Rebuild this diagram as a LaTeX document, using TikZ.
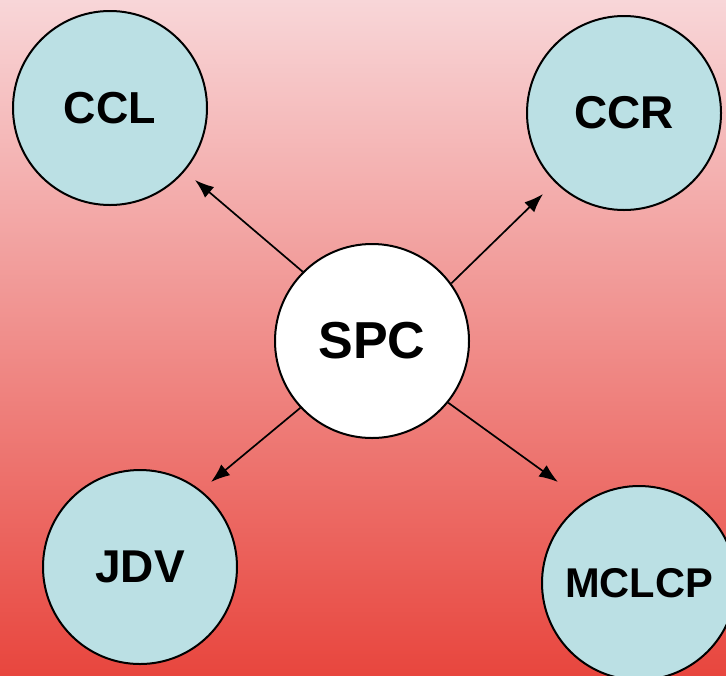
\documentclass[tikz,border=0pt]{standalone}
\usepackage{fontspec}
\setmainfont{Liberation Sans}
\usetikzlibrary{arrows.meta}
\definecolor{cielo}{RGB}{187,224,228}
\definecolor{rosa}{RGB}{248,214,216}
\definecolor{rosso}{RGB}{232,70,62}

\begin{document}
\begin{tikzpicture}[x=0.5pt,y=-0.5pt,font=\bfseries,
  bolla/.style={circle,draw,line width=1pt,fill=cielo,minimum size=97pt,inner sep=0pt},
  freccia/.style={-{Latex[length=9.5pt,width=7pt]},line width=0.85pt}]

\useasboundingbox (0,0) rectangle (726,675);
\shade[top color=rosa,bottom color=rosso] (0,0) rectangle (726,675);

\begin{scope}
\clip (0,0) rectangle (726,675);
\node[bolla,fill=white] (spc) at (372,341) {\fontsize{26}{30}\selectfont SPC};
\node[bolla] (ccl) at (110,108) {\fontsize{22.4}{26}\selectfont CCL};
\node[bolla] (ccr) at (624,113) {\fontsize{23}{27}\selectfont CCR};
\node[bolla] (jdv) at (140,567) {\fontsize{23}{27}\selectfont JDV};
\node[bolla] (mclcp) at (639,583) {\fontsize{20.8}{24}\selectfont MCLCP};

\coordinate (pccl) at (195,180);
\coordinate (pccr) at (543,194);
\coordinate (pjdv) at (211,482);
\coordinate (pmclcp) at (558,482);

\draw[freccia] (spc.135) -- (pccl);
\draw[freccia] (spc.36) -- (pccr);
\draw[freccia] (spc.-137) -- (pjdv);
\draw[freccia] (spc.-39) -- (pmclcp);
\end{scope}

\end{tikzpicture}
\end{document}
